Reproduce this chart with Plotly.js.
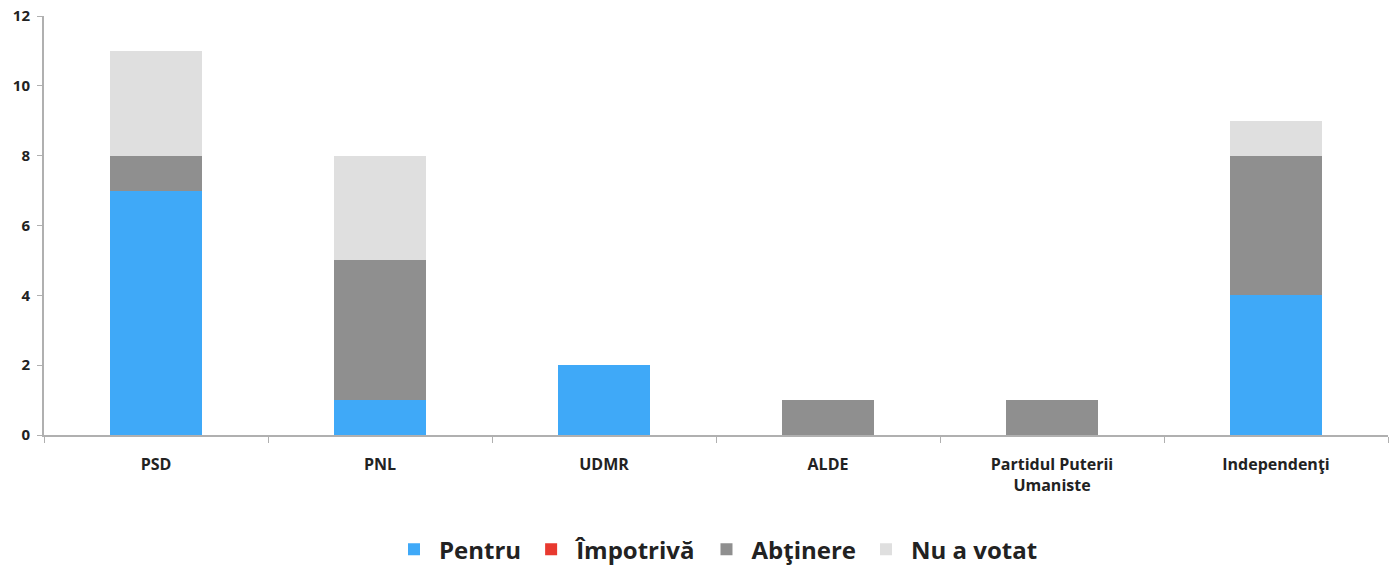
<!DOCTYPE html>
<html><head><meta charset="utf-8">
<script src="https://cdn.plot.ly/plotly-3.0.1.min.js"></script>
<style>html,body{margin:0;padding:0;background:#fff}#chart{width:1400px;height:565px}</style>
</head><body><div id="chart"></div>
<script>
const categories = ["PSD", "PNL", "UDMR", "ALDE", "Partidul Puterii<br>Umaniste", "Independenţi"];
const pentru = [7, 1, 2, 0, 0, 4];
const impotriva = [0, 0, 0, 0, 0, 0];
const abtinere = [1, 4, 0, 1, 1, 4];
const nuAVotat = [3, 3, 0, 0, 0, 1];
const seriesNames = ["Pentru", "Împotrivă", "Abţinere", "Nu a votat"];
const seriesColors = ["#3fa9f8", "#e8392f", "#8f8f8f", "#dfdfdf"];
const yTicks = [0, 2, 4, 6, 8, 10, 12];

const values = [pentru, impotriva, abtinere, nuAVotat];
const traces = values.map((v, i) => ({
  type: "bar", x: categories, y: v, name: seriesNames[i],
  marker: {color: seriesColors[i], line: {width: 0}},
  hoverinfo: "x+y+name"
}));

const layout = {
  width: 1400, height: 565,
  margin: {l: 44, r: 12, t: 16, b: 130, autoexpand: false},
  barmode: "stack", bargap: 0.59,
  paper_bgcolor: "#fff", plot_bgcolor: "#fff",
  font: {family: "Open Sans, sans-serif", color: "#222"},
  xaxis: {
    type: "category", tickson: "boundaries", ticks: "outside", ticklen: 6,
    tickcolor: "#b0b0b0", showline: true, linecolor: "#b0b0b0", linewidth: 2,
    tickfont: {size: 16, family: "Open Sans, sans-serif", weight: "bold", color: "#222"},
    showgrid: false, zeroline: false, ticklabelstandoff: 14, automargin: false
  },
  yaxis: {
    range: [0, 12], tickvals: yTicks, ticks: "outside", ticklen: 5,
    tickcolor: "#b0b0b0", showline: true, linecolor: "#b0b0b0", linewidth: 2,
    tickfont: {size: 15, family: "Open Sans, sans-serif", weight: "bold", color: "#222"},
    showgrid: false, zeroline: false, ticklabelstandoff: 4, automargin: false
  },
  showlegend: true,
  legend: {
    orientation: "h", x: 0.5, xanchor: "center", y: -0.22, yanchor: "top",
    font: {size: 24, family: "Open Sans, sans-serif", weight: "bold", color: "#222"},
    itemwidth: 40, traceorder: "normal"
  }
};
Plotly.newPlot("chart", traces, layout, {displayModeBar: false, staticPlot: true});
</script></body></html>
